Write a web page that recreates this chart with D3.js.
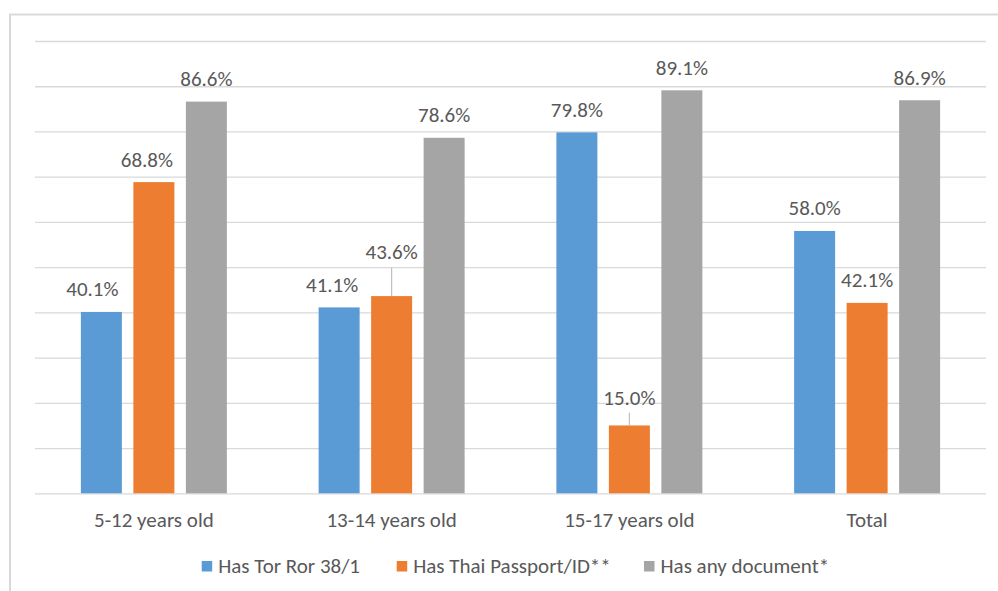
<!DOCTYPE html>
<html>
<head>
<meta charset="utf-8">
<script src="https://cdn.jsdelivr.net/npm/d3@7"></script>
<style>
  html, body { margin: 0; padding: 0; background: #fff; }
  svg { display: block; }
  text { font-family: Carlito, Calibri, "Liberation Sans", Arial, sans-serif; fill: #595959; }
</style>
</head>
<body>
<svg id="chart" width="998" height="591"></svg>
<script>
// Share of children holding each kind of document, by age group
const categories = ["5-12 years old", "13-14 years old", "15-17 years old", "Total"];
const seriesNames = ["Has Tor Ror 38/1", "Has Thai Passport/ID**", "Has any document*"];
const torRor = [40.1, 41.1, 79.8, 58.0];
const thaiPassport = [68.8, 43.6, 15.0, 42.1];
const anyDocument = [86.6, 78.6, 89.1, 86.9];
const gridTicks = [0, 10, 20, 30, 40, 50, 60, 70, 80, 90, 100];

const seriesValues = [torRor, thaiPassport, anyDocument];
const colors = ["#5B9BD5", "#ED7D31", "#A5A5A5"];

const svg = d3.select("#chart");
const plot = { left: 35, right: 986, top: 41, bottom: 493.3 };
const fontSize = 21;

// outer chart frame (extends past the right and bottom edges)
svg.append("rect")
  .attr("x", 10).attr("y", 14.5)
  .attr("width", 1000).attr("height", 600)
  .attr("fill", "none").attr("stroke", "#d9d9d9").attr("stroke-width", 2);

const x0 = d3.scaleBand().domain(categories).range([plot.left, plot.right]).padding(0);
const half = 73;
const x1 = d3.scaleBand().domain(seriesNames)
  .range([x0.bandwidth() / 2 - half, x0.bandwidth() / 2 + half])
  .paddingInner(0.219).paddingOuter(0);
const y = d3.scaleLinear().domain([0, 100]).range([plot.bottom, plot.top]);

// horizontal gridlines
const grid = svg.append("g")
  .attr("transform", `translate(${plot.left},0)`)
  .call(d3.axisLeft(y).tickValues(gridTicks).tickSize(-(plot.right - plot.left)).tickFormat(""));
grid.select(".domain").remove();
grid.selectAll(".tick line").attr("stroke", "#d9d9d9").attr("stroke-width", 1.3);

// bars
const rows = [];
seriesNames.forEach((s, si) => {
  categories.forEach((c, ci) => {
    rows.push({ series: s, si, cat: c, ci, value: seriesValues[si][ci] });
  });
});

svg.append("g").selectAll("rect")
  .data(rows)
  .join("rect")
  .attr("x", d => x0(d.cat) + x1(d.series))
  .attr("y", d => y(d.value))
  .attr("width", x1.bandwidth())
  .attr("height", d => y(0) - y(d.value))
  .attr("fill", d => colors[d.si]);

// data labels: default sits just above the bar; some were dragged aside
const labelNudge = {
  "0-0": { dx: -9, dy: 0 },
  "1-0": { dx: -7, dy: 0 },
  "0-1": { dx: -7, dy: 0 },
  "1-1": { dx: 0, dy: -21, leader: true },
  "1-2": { dx: 0, dy: -5, leader: true }
};
const fmt = d3.format(".1f");
const labels = svg.append("g");
rows.forEach(d => {
  const n = labelNudge[`${d.si}-${d.ci}`] || { dx: 0, dy: 0 };
  const cx = x0(d.cat) + x1(d.series) + x1.bandwidth() / 2;
  const top = y(d.value);
  const baseY = top - 15.6 + n.dy;
  if (n.leader) {
    labels.append("line")
      .attr("x1", cx).attr("x2", cx)
      .attr("y1", baseY + 8).attr("y2", top)
      .attr("stroke", "#bfbfbf").attr("stroke-width", 1.2);
  }
  labels.append("text")
    .attr("x", cx + n.dx).attr("y", baseY)
    .attr("text-anchor", "middle")
    .attr("font-size", fontSize)
    .text(fmt(d.value) + "%");
});

// category axis labels
svg.append("g").selectAll("text")
  .data(categories)
  .join("text")
  .attr("x", d => x0(d) + x0.bandwidth() / 2)
  .attr("y", 526.5)
  .attr("text-anchor", "middle")
  .attr("font-size", fontSize)
  .text(d => d);

// legend: swatch + label per series, at fixed slots along the bottom
const legendX = [201.7, 396.7, 644];
const legend = svg.append("g");
seriesNames.forEach((s, i) => {
  legend.append("rect")
    .attr("x", legendX[i]).attr("y", 561)
    .attr("width", 10.5).attr("height", 10.5)
    .attr("fill", colors[i]);
  legend.append("text")
    .attr("x", legendX[i] + 16.5).attr("y", 572.5)
    .attr("font-size", fontSize)
    .text(s);
});
</script>
</body>
</html>
